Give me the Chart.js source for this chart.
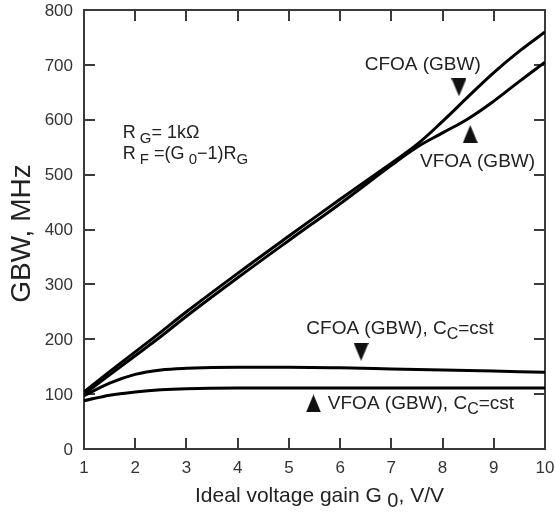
<!DOCTYPE html>
<html>
<head>
<meta charset="utf-8">
<script src="https://cdn.jsdelivr.net/npm/chart.js@4/dist/chart.umd.min.js"></script>
<style>
  html, body { margin: 0; padding: 0; background: #fff; }
  #wrap { width: 555px; height: 515px; }
</style>
</head>
<body>
<div id="wrap"><canvas id="c" width="555" height="515"></canvas></div>
<script>
// values
const gains     = [1, 1.5, 2, 2.5, 3, 4, 5, 6, 7, 7.5, 8, 8.5, 9, 9.5, 10];
const cfoaGbw   = [104, 141, 177, 213, 250, 320, 388, 455, 521, 555, 597, 642, 686, 725, 760];
const vfoaGbw   = [100, 135, 170, 205, 242, 312, 380, 447, 517, 550, 576, 602, 634, 670, 705];
const cfoaCcGbw = [97, 120, 136, 144, 147, 149, 149, 148, 146, 145, 144, 143, 142, 141, 140];
const vfoaCcGbw = [88, 98, 104, 108, 110, 111, 111, 111, 111, 111, 111, 111, 111, 111, 111];

const xTicks = [1, 2, 3, 4, 5, 6, 7, 8, 9, 10];
const yTicks = [0, 100, 200, 300, 400, 500, 600, 700, 800];

// arrow heads next to the labels
const arrowsDown = [{x: 8.32, y: 659}, {x: 6.41, y: 177}];
const arrowsUp   = [{x: 8.54, y: 574}, {x: 5.48, y: 83}];

const FONT = '"Liberation Sans", Arial, sans-serif';

function pts(ys){ return gains.map((g, i) => ({x: g, y: ys[i]})); }

function triCanvas(down){
  const c = document.createElement('canvas');
  c.width = 15; c.height = 18;
  const t = c.getContext('2d');
  t.fillStyle = '#111';
  t.beginPath();
  if(down){ t.moveTo(0, 0); t.lineTo(15, 0); t.lineTo(7.5, 18); }
  else { t.moveTo(7.5, 0); t.lineTo(15, 18); t.lineTo(0, 18); }
  t.closePath(); t.fill();
  return c;
}

// labels: parts are [text, isSub], anchored left/baseline at data coords
const notes = [
  {x: 1.755, y: 566, size: 18, parts: [['R',0],[' G',1],['= 1kΩ',0]]},
  {x: 1.755, y: 528, size: 18, parts: [['R',0],[' F',1],[' =(G',0],[' 0',1],['−1)R',0],['G',1]]},
  {x: 6.48, y: 691, size: 19, parts: [['CFOA (GBW)',0]]},
  {x: 7.56, y: 513, size: 19, parts: [['VFOA (GBW)',0]]},
  {x: 5.34, y: 209, size: 19, parts: [['CFOA (GBW), C',0],['C',1],['=cst',0]]},
  {x: 5.76, y: 72.6, size: 19, parts: [['VFOA (GBW), C',0],['C',1],['=cst',0]]}
];

function richText(ctx, x, y, size, parts, align, subScale){
  const subSize = Math.round(size * (subScale || 0.85));
  let w = 0;
  parts.forEach(p => {
    ctx.font = (p[1] ? subSize : size) + 'px ' + FONT;
    w += ctx.measureText(p[0]).width;
  });
  let cx = align === 'center' ? x - w / 2 : x;
  ctx.textAlign = 'left';
  ctx.textBaseline = 'alphabetic';
  parts.forEach(p => {
    ctx.font = (p[1] ? subSize : size) + 'px ' + FONT;
    ctx.fillText(p[0], cx, y + (p[1] ? 5 : 0));
    cx += ctx.measureText(p[0]).width;
  });
}

const framePlugin = {
  id: 'frame',
  beforeDatasetsDraw(chart){
    const {ctx, chartArea: a, scales: {x, y}} = chart;
    ctx.save();
    ctx.strokeStyle = '#3a3a3a';
    ctx.lineWidth = 2;
    ctx.strokeRect(a.left, a.top, a.right - a.left, a.bottom - a.top);
    ctx.beginPath();
    yTicks.slice(1, -1).forEach(v => {
      const py = Math.round(y.getPixelForValue(v));
      ctx.moveTo(a.left, py); ctx.lineTo(a.left + 11, py);
      ctx.moveTo(a.right, py); ctx.lineTo(a.right - 11, py);
    });
    xTicks.slice(1, -1).forEach(v => {
      const px = Math.round(x.getPixelForValue(v));
      ctx.moveTo(px, a.bottom); ctx.lineTo(px, a.bottom - 11);
      ctx.moveTo(px, a.top); ctx.lineTo(px, a.top + 11);
    });
    ctx.stroke();

    // tick labels
    ctx.fillStyle = '#333';
    ctx.font = '17px ' + FONT;
    ctx.textAlign = 'right';
    ctx.textBaseline = 'middle';
    yTicks.forEach(v => ctx.fillText(String(v), a.left - 11, y.getPixelForValue(v) + 1));
    ctx.textAlign = 'center';
    ctx.textBaseline = 'alphabetic';
    xTicks.forEach(v => ctx.fillText(String(v), x.getPixelForValue(v), a.bottom + 24));
    ctx.restore();
  },
  afterDraw(chart){
    const {ctx, chartArea: a, scales: {x, y}} = chart;
    ctx.save();
    ctx.fillStyle = '#222';
    notes.forEach(n => richText(ctx, x.getPixelForValue(n.x), y.getPixelForValue(n.y), n.size, n.parts));
    // axis titles
    richText(ctx, (a.left + a.right) / 2 + 5, a.bottom + 53, 21, [['Ideal voltage gain G',0],[' 0',1],[', V/V',0]], 'center', 0.95);
    ctx.translate(30, (a.top + a.bottom) / 2 + 4);
    ctx.rotate(-Math.PI / 2);
    ctx.font = '28px ' + FONT;
    ctx.textAlign = 'center';
    ctx.textBaseline = 'alphabetic';
    ctx.fillText('GBW, MHz', 0, 0);
    ctx.restore();
  }
};

const line = (ys, smooth) => ({
  type: 'line', data: pts(ys), borderColor: '#000', borderWidth: 3,
  pointRadius: 0, fill: false,
  tension: smooth ? 0.4 : 0, cubicInterpolationMode: smooth ? 'default' : 'monotone'
});
const arrows = (list, down) => ({
  type: 'scatter', data: list, pointStyle: triCanvas(down), pointRadius: 9, showLine: false
});

new Chart(document.getElementById('c'), {
  type: 'line',
  data: {
    datasets: [
      line(cfoaGbw, true), line(vfoaGbw, true), line(cfoaCcGbw, false), line(vfoaCcGbw, false),
      arrows(arrowsDown, true), arrows(arrowsUp, false)
    ]
  },
  options: {
    responsive: false,
    animation: false,
    events: [],
    layout: { padding: { top: 8, right: 6, left: 0, bottom: 0 } },
    plugins: { legend: { display: false }, tooltip: { enabled: false } },
    scales: {
      x: {
        type: 'linear', min: 1, max: 10,
        afterBuildTicks: s => { s.ticks = xTicks.map(v => ({value: v})); },
        afterFit: s => { s.height = 66; },
        grid: { display: false, drawTicks: false }, border: { display: false },
        ticks: { display: false }
      },
      y: {
        type: 'linear', min: 0, max: 800,
        afterBuildTicks: s => { s.ticks = yTicks.map(v => ({value: v})); },
        afterFit: s => { s.width = 84; },
        grid: { display: false, drawTicks: false }, border: { display: false },
        ticks: { display: false }
      }
    }
  },
  plugins: [framePlugin]
});
</script>
</body>
</html>
